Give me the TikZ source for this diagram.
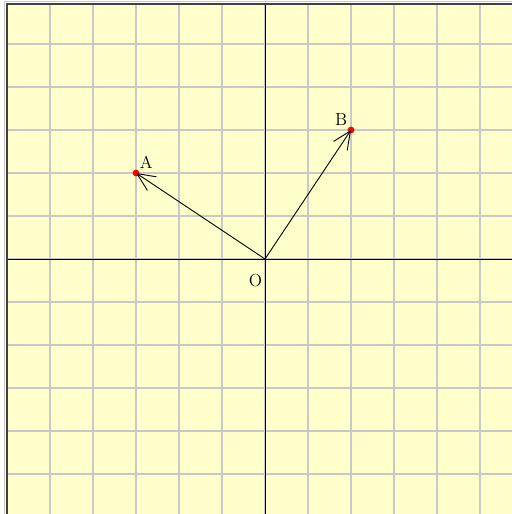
\documentclass[tikz,border=0pt]{standalone}
\usetikzlibrary{arrows.meta}
\definecolor{paper}{HTML}{FFFFCC}
\definecolor{gridgray}{HTML}{C8C8C8}
\definecolor{framegray}{HTML}{404040}
\tikzset{
  gridline/.style={draw=gridgray, line width=0.9pt},
  axisline/.style={draw=black, line width=0.6pt},
  vec/.style={draw=black, line width=0.6pt, -{Straight Barb[length=4.2mm, width=3.8mm, line width=0.6pt]}},
  pt/.style={circle, fill=red, inner sep=0pt, minimum size=4.5pt},
  lbl/.style={font=\fontsize{11.5}{13}\selectfont, inner sep=0pt}
}
\begin{document}
\begin{tikzpicture}[x=1cm,y=1cm]
\useasboundingbox (-6.163,-5.930) rectangle (5.721,6.023);
\fill[white] (-6.163,-5.930) rectangle (5.721,6.023);
\fill[paper] (-6.0,-6.1) rectangle (5.9,5.94);
\foreach \i in {-5,...,5} {
  \draw[gridline] (\i,-6.1) -- (\i,5.94);
  \draw[gridline] (-6.0,\i) -- (5.9,\i);
}
\draw[axisline] (0,-6.1) -- (0,5.94);
\draw[axisline] (-6.0,0) -- (5.9,0);
\draw[gridgray, line width=0.6pt] (-6.06,-6.1) -- (-6.06,6.0) -- (5.9,6.0);
\draw[framegray, line width=1.3pt] (-5.99,-6.1) -- (-5.99,5.93) -- (5.9,5.93);
\coordinate (O) at (0,0);
\node[pt] (A) at (-3,2) {};
\node[pt] (B) at (2,3) {};
\draw[vec] (O) -- (A.center);
\draw[vec] (O) -- (B.center);
\node[lbl] (la) at (-2.76,2.25) {A};
\node[lbl] (lb) at (1.77,3.25) {B};
\node[lbl] (lo) at (-0.22,-0.49) {O};
\end{tikzpicture}
\end{document}
